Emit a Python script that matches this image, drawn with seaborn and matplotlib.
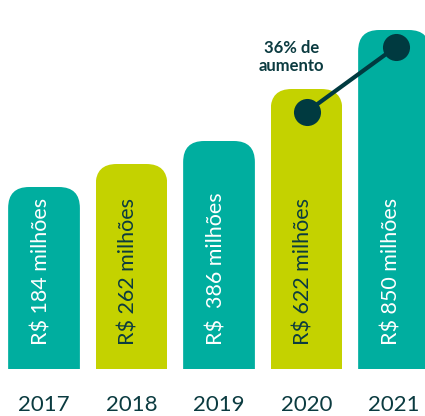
import matplotlib
matplotlib.use("Agg")
import matplotlib.pyplot as plt
import seaborn as sns
from matplotlib.patches import FancyBboxPatch

years = ["2017", "2018", "2019", "2020", "2021"]
labels = ["R$ 184 milhões", "R$ 262 milhões", "R$  386 milhões", "R$ 622 milhões", "R$ 850 milhões"]
# bar heights as drawn in the picture (not proportional to the values)
heights = [182, 205, 228, 280, 339]
colors = ["#00ae9f", "#c4d200", "#00ae9f", "#c4d200", "#00ae9f"]
text_colors = ["white", "#0b3b40", "white", "#0b3b40", "white"]
dot_y = [257, 322]
note = "36% de\naumento"

sns.set_theme(style="white")
plt.rcParams["font.family"] = ["Lato", "DejaVu Sans"]

fig = plt.figure(figsize=(4.25, 4.16), dpi=100)
ax = fig.add_axes([0, 0, 1, 1])

sns.barplot(x=years, y=heights, hue=years, palette=colors, legend=False,
            width=0.82, saturation=1, ax=ax)

ax.set_xlim(-0.503, 4.354)
ax.set_ylim(-47, 369)
ax.axis("off")

# round the top corners by clipping each bar
aspect = 87.5  # y units per x unit
for p in ax.patches:
    x, w, h = p.get_x(), p.get_width(), p.get_height()
    clip = FancyBboxPatch((x, -60), w, h + 60,
                          boxstyle="round,pad=0,rounding_size=0.24",
                          mutation_aspect=aspect, transform=ax.transData,
                          facecolor="none", edgecolor="none")
    ax.add_patch(clip)
    p.set_clip_path(clip)
    p.set_edgecolor("none")

for i, (lab, tc) in enumerate(zip(labels, text_colors)):
    ax.text(i - 0.03, 24, lab, rotation=90, ha="center", va="bottom",
            color=tc, fontsize=15.5)
    ax.text(i, -36, years[i], ha="center", va="center",
            color="#0b3b40", fontsize=16)

# connector between 2020 and 2021
ax.plot([3, 4.02], dot_y, color="#003a40", lw=3, zorder=5)
ax.scatter([3, 4.02], dot_y, s=380, color="#003a40", zorder=6, linewidth=0)
ax.text(2.83, 312, note, ha="center", va="center", color="#0b3b40",
        fontsize=12, fontweight="bold", linespacing=1.2)

fig.savefig("out.png", dpi=100)
